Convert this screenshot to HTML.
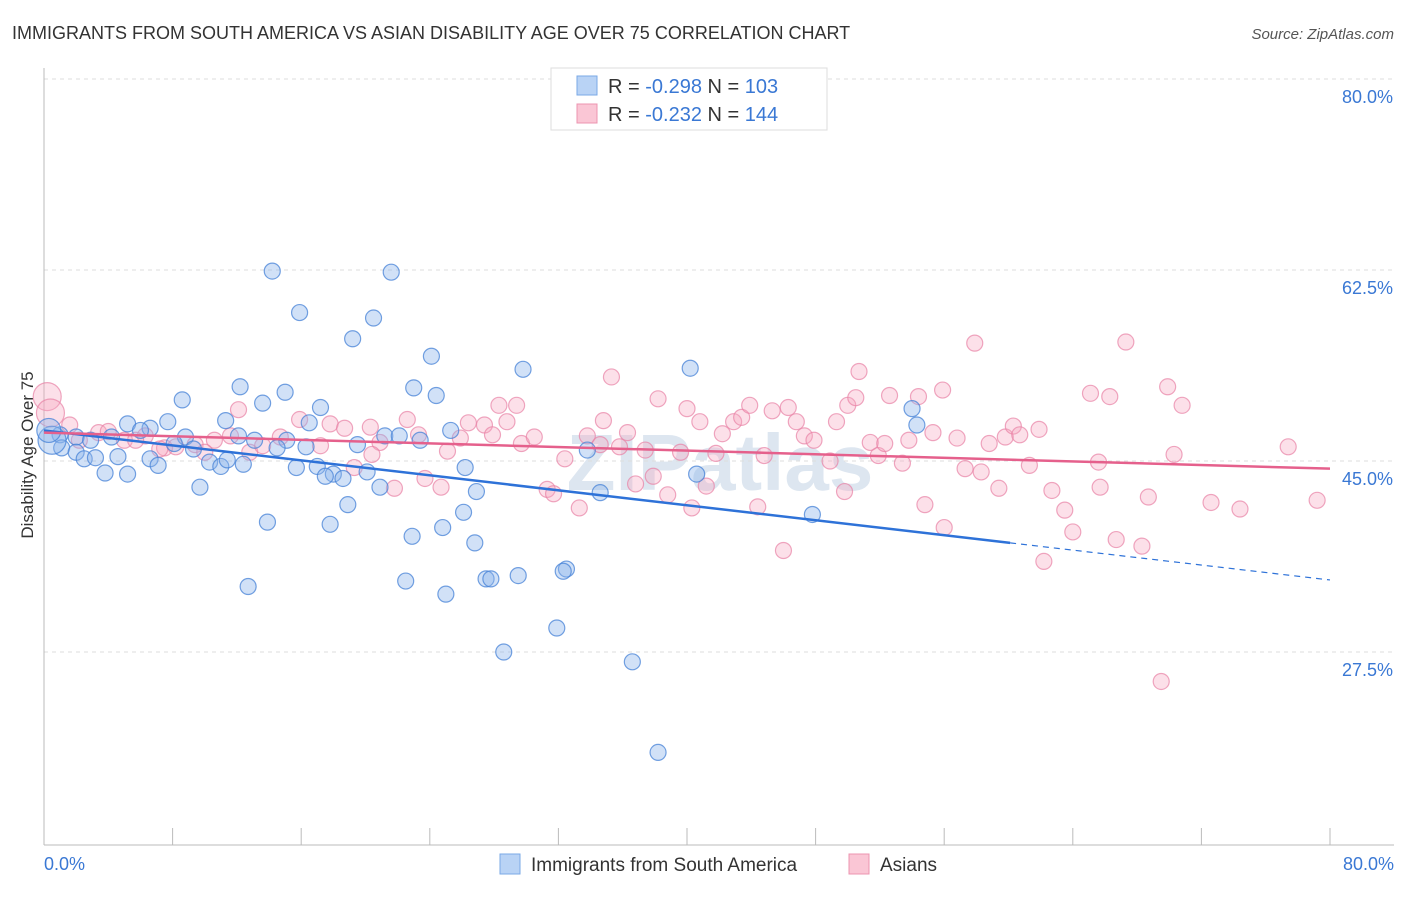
<!DOCTYPE html>
<html><head><meta charset="utf-8"><style>
body{margin:0;background:#fff;font-family:"Liberation Sans",sans-serif}
svg text{font-family:"Liberation Sans",sans-serif}
</style></head><body>
<svg id="chart" width="1406" height="892" xmlns="http://www.w3.org/2000/svg">
<text x="12" y="39" font-size="18" fill="#333">IMMIGRANTS FROM SOUTH AMERICA VS ASIAN DISABILITY AGE OVER 75 CORRELATION CHART</text>
<text x="1394" y="39" font-size="15" fill="#555" text-anchor="end" font-style="italic">Source: ZipAtlas.com</text>
<text transform="translate(33,455) rotate(-90)" font-size="17" fill="#333" text-anchor="middle">Disability Age Over 75</text>
<text x="720" y="490" font-size="80" fill="#dde6f0" text-anchor="middle" font-weight="bold">ZIPatlas</text>
<g id="grid"></g><g id="pts"></g><g id="trend"></g>
<g>
<rect x="551" y="68" width="276" height="62" fill="#fff" stroke="#ddd"/>
<rect x="577" y="76" width="20" height="19" fill="#b9d3f5" stroke="#7aa8e6"/>
<rect x="577" y="104" width="20" height="19" fill="#fac6d5" stroke="#ec94b0"/>
<text x="608" y="93" font-size="20" fill="#333">R = <tspan fill="#3a78d4">-0.298</tspan>   N = <tspan fill="#3a78d4">103</tspan></text>
<text x="608" y="121" font-size="20" fill="#333">R = <tspan fill="#3a78d4">-0.232</tspan>   N = <tspan fill="#3a78d4">144</tspan></text>
</g>
<g>
<rect x="500" y="854" width="20" height="20" fill="#b9d3f5" stroke="#7aa8e6"/>
<text x="531" y="871" font-size="19" fill="#333">Immigrants from South America</text>
<rect x="849" y="854" width="20" height="20" fill="#fac6d5" stroke="#ec94b0"/>
<text x="880" y="871" font-size="19" fill="#333">Asians</text>
</g>
<text x="44" y="870" font-size="18" fill="#3a78d4">0.0%</text>
<text x="1394" y="870" font-size="18" fill="#3a78d4" text-anchor="end">80.0%</text>
</svg>
<script>
const yTicks=[80,62.5,45,27.5];
const yTickLabels=["80.0%","62.5%","45.0%","27.5%"];
const xTicks=[0,8,16,24,32,40,48,56,64,72,80];
const blueX=[14.2,21.6,15.9,20.5,19.2,24.1,29.8,40.2,12.2,15.0,23.0,24.4,8.6,13.6,17.2,54.0,5.2,7.7,11.3,6.6,6.0,54.3,25.3,21.2,22.1,23.4,12.1,15.1,16.5,8.8,8.1,9.3,13.1,14.5,16.3,19.5,33.8,1.0,2.0,2.9,1.1,2.0,2.5,3.2,4.6,4.2,6.6,7.1,10.3,11.0,12.4,11.4,15.7,17.0,18.0,18.6,17.5,20.1,20.9,26.2,3.8,5.2,9.7,26.9,34.6,40.6,18.9,26.1,47.8,13.9,17.8,24.8,22.9,26.8,32.5,32.3,29.5,27.5,27.8,22.5,12.7,25.0,31.9,28.6,36.6,38.2,0.5,0.3];
const blueY=[62.4,62.3,58.6,58.1,56.2,54.6,53.4,53.5,51.8,51.3,51.7,51.0,50.6,50.3,49.9,49.8,48.4,48.6,48.7,48.0,47.8,48.3,47.8,47.3,47.3,46.9,47.3,46.9,48.5,47.2,46.6,46.1,46.9,46.2,46.3,46.5,46.0,47.4,47.2,46.9,46.2,45.8,45.2,45.3,45.4,47.2,45.2,44.6,44.9,44.5,44.7,45.1,44.4,44.5,43.8,43.4,43.6,44.0,42.6,44.4,43.9,43.8,42.6,42.2,42.1,43.8,41.0,40.3,40.1,39.4,39.2,38.9,38.1,37.5,35.1,34.9,34.5,34.2,34.2,34.0,33.5,32.8,29.7,27.5,26.6,18.3,46.9,47.8];
const blueR=[8,8,8,8,8,8,8,8,8,8,8,8,8,8,8,8,8,8,8,8,8,8,8,8,8,8,8,8,8,8,8,8,8,8,8,8,8,8,8,8,8,8,8,8,8,8,8,8,8,8,8,8,8,8,8,8,8,8,8,8,8,8,8,8,8,8,8,8,8,8,8,8,8,8,8,8,8,8,8,8,8,8,8,8,8,8,14,12];
const pinkX=[0.2,0.4,1.6,3.4,5.0,6.3,7.5,9.4,10.6,12.1,12.8,13.6,14.7,15.9,17.2,17.8,18.7,20.3,20.9,20.4,21.8,19.3,22.6,23.3,23.7,24.7,25.1,25.9,26.4,27.4,27.9,28.3,29.4,28.8,29.7,30.5,31.3,31.7,32.4,33.3,33.8,34.6,34.8,35.3,35.8,36.3,36.8,37.4,37.9,38.2,38.8,39.6,40.0,40.3,40.8,41.2,41.8,42.2,42.9,43.4,43.9,44.4,44.8,45.3,46.0,46.3,46.8,47.3,47.9,48.9,49.3,49.8,50.0,50.7,50.5,51.4,51.9,52.3,52.6,53.4,53.8,54.4,54.8,55.3,55.9,56.0,56.8,57.3,57.9,58.3,58.8,59.4,59.8,60.3,60.7,61.3,61.9,62.2,62.7,63.5,64.0,65.1,65.6,65.7,66.3,66.7,67.3,68.3,68.7,69.5,69.9,70.3,70.8,72.6,74.4,77.4,79.2,2.2,4.0,5.7,7.2,8.2,10.0,11.6];
const pinkY=[50.9,49.4,48.3,47.6,46.9,47.3,46.2,46.5,46.9,49.7,45.8,46.4,47.2,48.8,46.4,48.4,48.0,48.1,46.7,45.6,42.5,44.4,48.8,47.4,43.4,42.6,45.9,47.1,48.5,48.3,47.4,50.1,50.1,48.6,46.6,47.2,42.4,42.0,45.2,40.7,47.3,46.5,48.7,52.7,46.3,47.6,42.9,46.0,43.6,50.7,41.9,45.8,49.8,40.7,48.6,42.7,45.7,47.5,48.6,49.0,50.1,40.8,45.5,49.6,36.8,49.9,48.6,47.3,46.9,45.0,48.6,42.2,50.1,53.2,50.8,46.7,45.5,46.6,51.0,44.8,46.9,50.9,41.0,47.6,51.5,38.9,47.1,44.3,55.8,44.0,46.6,42.5,47.2,48.2,47.4,44.6,47.9,35.8,42.3,40.5,38.5,51.2,44.9,42.6,50.9,37.8,55.9,37.2,41.7,24.8,51.8,45.6,50.1,41.2,40.6,46.3,41.4,46.9,47.7,46.9,46.1,46.3,45.8,47.3];
const blueTrend=[[0,47.8],[60.1,37.5],[80,34.1]];
const pinkTrend=[[0,47.6],[80,44.3]];
const NS="http://www.w3.org/2000/svg";
function sx(v){return 44+v*(1330-44)/80;}
function sy(v){return 79+(80-v)*(461-79)/35;}
function mk(t,a,p){const e=document.createElementNS(NS,t);for(const k in a)e.setAttribute(k,a[k]);p.appendChild(e);return e;}
const g=document.getElementById('grid');
yTicks.forEach((t,i)=>{
 const l=mk('line',{x1:44,x2:1394,y1:sy(t),y2:sy(t),stroke:'#ddd','stroke-dasharray':'4,4'},g);
 
 
 const tx=mk('text',{x:1393,y:sy(t)+24,'font-size':18,fill:'#3a78d4','text-anchor':'end'},g);
 tx.textContent=yTickLabels[i];
 
 
});
const ax=mk('line',{x1:44,x2:44,y1:68,y2:845,stroke:'#bbb'},g);


const bx=mk('line',{x1:44,x2:1394,y1:845,y2:845,stroke:'#bbb'},g);


xTicks.forEach(t=>{
 const l=mk('line',{x1:sx(t),x2:sx(t),y1:828,y2:845,stroke:'#bbb'},g);
 
 
});
const p=document.getElementById('pts');
pinkX.forEach((x,i)=>{
 const c=mk('circle',{cx:sx(x),cy:sy(pinkY[i]),r:i<2?14:8,fill:'rgba(246,166,192,0.35)',stroke:'rgba(232,130,165,0.7)','stroke-width':1.2},p);
 
 
});
blueX.forEach((x,i)=>{
 const c=mk('circle',{cx:sx(x),cy:sy(blueY[i]),r:blueR[i],fill:'rgba(140,180,235,0.4)',stroke:'rgba(70,130,215,0.75)','stroke-width':1.2},p);
 
 
});
const tr=document.getElementById('trend');
const b1=mk('line',{x1:sx(blueTrend[0][0]),y1:sy(blueTrend[0][1]),x2:sx(blueTrend[1][0]),y2:sy(blueTrend[1][1]),stroke:'#2e72d8','stroke-width':2.5},tr);


const b2=mk('line',{x1:sx(blueTrend[1][0]),y1:sy(blueTrend[1][1]),x2:sx(blueTrend[2][0]),y2:sy(blueTrend[2][1]),stroke:'#2e72d8','stroke-width':1.2,'stroke-dasharray':'6,5'},tr);


const p1=mk('line',{x1:sx(pinkTrend[0][0]),y1:sy(pinkTrend[0][1]),x2:sx(pinkTrend[1][0]),y2:sy(pinkTrend[1][1]),stroke:'#e5608c','stroke-width':2.5},tr);


</script>
</body></html>
